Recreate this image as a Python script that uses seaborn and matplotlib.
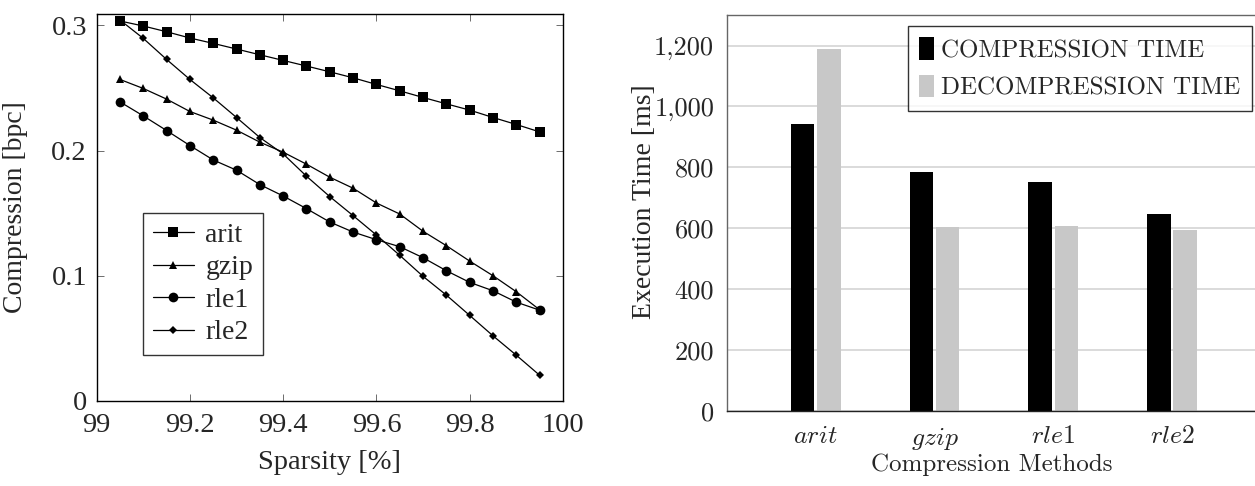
import numpy as np
import pandas as pd
import matplotlib
matplotlib.use('Agg')
import matplotlib.pyplot as plt
from matplotlib.ticker import FuncFormatter
import seaborn as sns

# ---- data: compression vs sparsity ----
sparsity = [99.05, 99.10, 99.15, 99.20, 99.25, 99.30, 99.35, 99.40, 99.45, 99.50,
            99.55, 99.60, 99.65, 99.70, 99.75, 99.80, 99.85, 99.90, 99.95]
arit = [0.3035, 0.2995, 0.2949, 0.2899, 0.2856, 0.2811, 0.2765, 0.2720, 0.2675, 0.2629,
        0.2581, 0.2528, 0.2477, 0.2424, 0.2373, 0.2323, 0.2264, 0.2208, 0.2149]
gzip = [0.2568, 0.2496, 0.2411, 0.2312, 0.2243, 0.2163, 0.2067, 0.1987, 0.1891, 0.1787,
        0.1699, 0.1581, 0.1493, 0.1355, 0.1240, 0.1117, 0.1000, 0.0872, 0.0728]
rle1 = [0.2389, 0.2277, 0.2160, 0.2040, 0.1925, 0.1843, 0.1728, 0.1637, 0.1536, 0.1429,
        0.1349, 0.1288, 0.1232, 0.1144, 0.1040, 0.0947, 0.0880, 0.0789, 0.0725]
rle2 = [0.3043, 0.2896, 0.2728, 0.2568, 0.2421, 0.2264, 0.2104, 0.1973, 0.1795, 0.1632,
        0.1480, 0.1325, 0.1163, 0.0995, 0.0845, 0.0683, 0.0520, 0.0365, 0.0205]

# ---- data: execution time ----
methods = ['arit', 'gzip', 'rle1', 'rle2']
comp_time = [942, 784, 752, 647]
decomp_time = [1188, 606, 608, 593]

series = {'arit': arit, 'gzip': gzip, 'rle1': rle1, 'rle2': rle2}
rows = []
for name, vals in series.items():
    for s, v in zip(sparsity, vals):
        rows.append({'sparsity': s, 'bpc': v, 'method': name})
df = pd.DataFrame(rows)

bars = pd.DataFrame({
    'method': methods * 2,
    'time': comp_time + decomp_time,
    'kind': ['COMPRESSION TIME'] * 4 + ['DECOMPRESSION TIME'] * 4,
})

sns.set_theme(style='white')
plt.rcParams['font.family'] = ['Liberation Serif', 'DejaVu Serif']
plt.rcParams['mathtext.fontset'] = 'cm'

fig = plt.figure(figsize=(12.55, 4.86), dpi=100)
ax1 = fig.add_axes([0.077, 0.175, 0.3716, 0.796])
ax2 = fig.add_axes([0.579, 0.154, 0.423, 0.815])

# ---- left plot ----
markers = {'arit': 's', 'gzip': '^', 'rle1': 'o', 'rle2': 'D'}
sizes = {'arit': 7.5, 'gzip': 5.5, 'rle1': 7, 'rle2': 4.5}
for name in methods:
    sub = df[df['method'] == name]
    sns.lineplot(data=sub, x='sparsity', y='bpc', ax=ax1, color='black', lw=0.9,
                 marker=markers[name], markersize=sizes[name], markeredgewidth=0,
                 label=name)
ax1.set_xlim(99, 100)
ax1.set_ylim(0, 0.309)
ax1.set_xticks([99, 99.2, 99.4, 99.6, 99.8, 100])
ax1.set_xticklabels(['99', '99.2', '99.4', '99.6', '99.8', '100'])
ax1.set_yticks([0, 0.1, 0.2, 0.3])
ax1.set_yticklabels(['0', '0.1', '0.2', '0.3'])
ax1.tick_params(direction='in', length=5, width=0.6, color='#555555',
                top=True, right=True, bottom=True, left=True, labelsize=20.5)
ax1.tick_params(axis='x', pad=9)
ax1.tick_params(axis='y', pad=7)
ax1.set_xlabel('Sparsity [%]', fontsize=20.5, labelpad=8)
ax1.set_ylabel('Compression [bpc]', fontsize=20)
ax1.yaxis.set_label_coords(-0.147, 0.5)
for sp in ax1.spines.values():
    sp.set_color('black')
    sp.set_linewidth(1.0)
leg = ax1.legend(loc='upper left', bbox_to_anchor=(0.099, 0.486), fontsize=20,
                 frameon=True, fancybox=False, edgecolor='black', handlelength=1.5,
                 handletextpad=0.4, borderpad=0.35, labelspacing=0.25,
                 borderaxespad=0)
leg.get_frame().set_linewidth(1.0)

# ---- right plot ----
sns.barplot(data=bars, x='method', y='time', hue='kind', ax=ax2,
            palette=['black', '#c8c8c8'], width=0.44, gap=0.1, saturation=1,
            edgecolor='none', linewidth=0)
ax2.set_xlim(-0.75, 3.72)
ax2.set_ylim(0, 1300)
ax2.set_yticks([0, 200, 400, 600, 800, 1000, 1200])
ax2.yaxis.set_major_formatter(FuncFormatter(lambda v, p: f'{int(v):,}'))
ax2.set_xticks(range(4))
ax2.set_xticklabels([r'$arit$', r'$gzip$', r'$rle1$', r'$rle2$'], fontsize=18.5)
ax2.grid(axis='y', color='#d4d4d4', lw=1.2)
ax2.set_axisbelow(True)
ax2.tick_params(axis='y', direction='in', length=3, width=0.6, color='#666666',
                labelsize=19, pad=9)
ax2.tick_params(axis='x', length=0, pad=11)
for lab in ax2.get_yticklabels():
    lab.set_fontfamily('cmr10')
ax2.set_xlabel('Compression Methods', fontsize=18, fontfamily='cmr10', labelpad=1)
ax2.set_ylabel('Execution Time [ms]', fontsize=20)
ax2.yaxis.set_label_coords(-0.131, 0.53)
for sp in ax2.spines.values():
    sp.set_color('#666666')
    sp.set_linewidth(1.0)
ax2.spines['bottom'].set_color('#222222')
ax2.spines['right'].set_visible(False)
leg2 = ax2.legend(loc='upper right', bbox_to_anchor=(0.9895, 0.972),
                  prop={'family': 'cmr10', 'size': 18}, frameon=True, fancybox=False,
                  edgecolor='black', handlelength=0.6, handleheight=1.0,
                  handletextpad=0.3, borderpad=0.45, labelspacing=0.5,
                  borderaxespad=0)
leg2.get_frame().set_linewidth(1.0)

fig.savefig('out.png', dpi=100)
